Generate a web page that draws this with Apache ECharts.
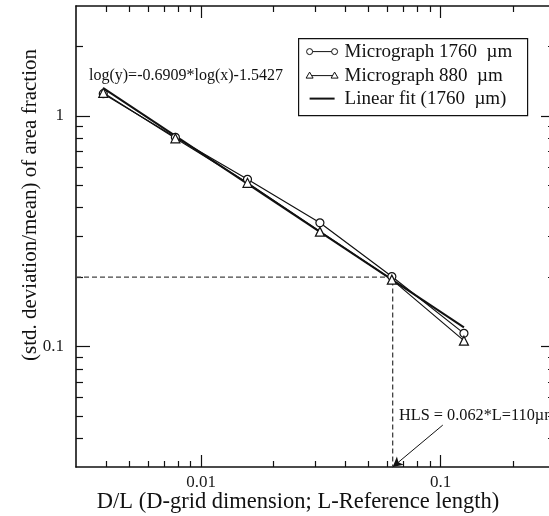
<!DOCTYPE html>
<html><head><meta charset="utf-8">
<script src="https://cdn.jsdelivr.net/npm/echarts@6/dist/echarts.min.js"></script>
<style>html,body{margin:0;padding:0;background:#fff}#c{width:549px;height:516px}</style>
</head><body><div id="c"></div>
<script>
// ---- data ----
const xValues = [0.0039, 0.0078, 0.0156, 0.0313, 0.0625, 0.125];
const y1760 = [1.25, 0.808, 0.531, 0.344, 0.201, 0.114];
const y880 = [1.26, 0.800, 0.513, 0.315, 0.195, 0.106];
const fitX = [0.0039, 0.125];
const fitY = [1.32, 0.121];
const hlsX = 0.063;
const hlsY = 0.2;
const arrowFrom = [0.102, 0.0456];
const xMin = 0.003, xMax = 0.3, yMin = 0.03, yMax = 3;
const xMajorTicks = [0.01, 0.1];
const xTickLabels = ['0.01', '0.1'];
const xMinorTicks = [0.004,0.005,0.006,0.007,0.008,0.009,0.02,0.03,0.04,0.05,0.06,0.07,0.08,0.09,0.2];
const yMajorTicks = [0.1, 1];
const yTickLabels = ['0.1', '1'];
const yMinorTicks = [0.04,0.05,0.06,0.07,0.08,0.09,0.2,0.3,0.4,0.5,0.6,0.7,0.8,0.9,2];
const seriesNames = ['Micrograph 1760  µm', 'Micrograph 880  µm', 'Linear fit (1760  µm)'];
const equationText = 'log(y)=-0.6909*log(x)-1.5427';
const hlsText = 'HLS = 0.062*L=110µm';
const xTitle = 'D/L (D-grid dimension; L-Reference length)';
const yTitle = '(std. deviation/mean) of area fraction';

const FONT = 'Liberation Serif, Times New Roman, serif';
const INK = '#111';

function labelFor(v, ticks, labels) {
  let best = 0;
  for (let i = 0; i < ticks.length; i++) if (Math.abs(Math.log10(ticks[i]) - Math.log10(v)) < Math.abs(Math.log10(ticks[best]) - Math.log10(v))) best = i;
  return labels[best];
}
function makeAxis(dim, pos, ticks, len, showLine, withLabels) {
  const isX = dim === 'x';
  const ax = {
    type: 'log', logBase: 10, gridIndex: 0, position: pos,
    min: isX ? xMin : yMin, max: isX ? xMax : yMax,
    axisLine: { show: showLine, onZero: false, lineStyle: { color: INK, width: 1.6 } },
    axisTick: { show: true, inside: true, length: len, customValues: ticks, lineStyle: { color: INK, width: 1.2 } },
    axisLabel: { show: false },
    splitLine: { show: false }, minorTick: { show: false }, minorSplitLine: { show: false }
  };
  if (withLabels) {
    ax.axisLabel = {
      show: true, customValues: ticks, margin: isX ? 7 : 12,
      fontFamily: FONT, fontSize: 17, color: '#1a1a1a',
      formatter: v => labelFor(v, isX ? xMajorTicks : yMajorTicks, isX ? xTickLabels : yTickLabels)
    };
  }
  return ax;
}

const chart = echarts.init(document.getElementById('c'), null, { renderer: 'canvas' });
const pairs = (xs, ys) => xs.map((x, i) => [x, ys[i]]);

const option = {
  backgroundColor: '#fff',
  animation: false,
  grid: { left: 76, top: 6, width: 479, height: 461, outerBoundsMode: 'none', containLabel: false },
  xAxis: [
    makeAxis('x', 'bottom', xMajorTicks, 12, true, true),
    makeAxis('x', 'bottom', xMinorTicks, 6, false, false),
    makeAxis('x', 'top', xMajorTicks, 12, true, false),
    makeAxis('x', 'top', xMinorTicks, 6, false, false)
  ],
  yAxis: [
    makeAxis('y', 'left', yMajorTicks, 14, true, true),
    makeAxis('y', 'left', yMinorTicks, 7, false, false),
    makeAxis('y', 'right', yMajorTicks, 14, true, false),
    makeAxis('y', 'right', yMinorTicks, 7, false, false)
  ],
  series: [
    {
      name: 'hls', type: 'line', xAxisIndex: 0, yAxisIndex: 0, z: 1,
      data: [[xMin, hlsY], [hlsX, hlsY], [hlsX, yMin]],
      symbol: 'none', silent: true,
      lineStyle: { color: '#444', width: 1.3, type: [5, 3] },
      markLine: {
        silent: true, symbol: ['none', 'arrow'], symbolSize: [8, 10],
        lineStyle: { color: INK, width: 1, type: 'solid' },
        label: { show: false },
        data: [[{ coord: arrowFrom }, { coord: [hlsX, yMin] }]]
      }
    },
    {
      name: seriesNames[0], type: 'line', xAxisIndex: 0, yAxisIndex: 0, z: 3,
      data: pairs(xValues, y1760),
      symbol: 'circle', symbolSize: 8,
      itemStyle: { color: '#fff', borderColor: INK, borderWidth: 1.2 },
      lineStyle: { color: INK, width: 1.2 }
    },
    {
      name: seriesNames[1], type: 'line', xAxisIndex: 0, yAxisIndex: 0, z: 3,
      data: pairs(xValues, y880),
      symbol: 'triangle', symbolSize: 9,
      itemStyle: { color: '#fff', borderColor: INK, borderWidth: 1.2 },
      lineStyle: { color: INK, width: 1.2 }
    },
    {
      name: seriesNames[2], type: 'line', xAxisIndex: 0, yAxisIndex: 0, z: 2,
      data: pairs(fitX, fitY),
      symbol: 'none',
      lineStyle: { color: INK, width: 2 }
    }
  ],
  graphic: [
    { type: 'text', left: 89, top: 68, style: { text: equationText, font: '16px ' + FONT, fill: INK } },
    { type: 'text', left: 399, top: 408, style: { text: hlsText, font: '16.3px ' + FONT, fill: INK } },
    { type: 'text', x: 298, y: 502, style: { text: xTitle, font: '22.5px ' + FONT, fill: INK, align: 'center', verticalAlign: 'middle' } },
    { type: 'text', x: 30, y: 205, rotation: Math.PI / 2, style: { text: yTitle, font: '21px ' + FONT, fill: INK, align: 'center', verticalAlign: 'middle' } },
    {
      type: 'group', left: 298, top: 38,
      children: [
        { type: 'rect', shape: { x: 0, y: 0, width: 229, height: 77 }, style: { fill: '#fff', stroke: INK, lineWidth: 1.2 } },
        { type: 'line', shape: { x1: 11, y1: 13, x2: 36, y2: 13 }, style: { stroke: INK, lineWidth: 1 } },
        { type: 'circle', shape: { cx: 11, cy: 13, r: 3 }, style: { fill: '#fff', stroke: INK, lineWidth: 1 } },
        { type: 'circle', shape: { cx: 36, cy: 13, r: 3 }, style: { fill: '#fff', stroke: INK, lineWidth: 1 } },
        { type: 'text', x: 46, y: 13, style: { text: seriesNames[0], font: '19px ' + FONT, fill: INK, verticalAlign: 'middle' } },
        { type: 'line', shape: { x1: 11, y1: 37, x2: 36, y2: 37 }, style: { stroke: INK, lineWidth: 1 } },
        { type: 'polygon', shape: { points: [[11, 33.5], [14.5, 39.5], [7.5, 39.5]] }, style: { fill: '#fff', stroke: INK, lineWidth: 1 } },
        { type: 'polygon', shape: { points: [[36, 33.5], [39.5, 39.5], [32.5, 39.5]] }, style: { fill: '#fff', stroke: INK, lineWidth: 1 } },
        { type: 'text', x: 46, y: 37, style: { text: seriesNames[1], font: '19px ' + FONT, fill: INK, verticalAlign: 'middle' } },
        { type: 'line', shape: { x1: 11, y1: 60, x2: 36, y2: 60 }, style: { stroke: INK, lineWidth: 2 } },
        { type: 'text', x: 46, y: 60, style: { text: seriesNames[2], font: '19px ' + FONT, fill: INK, verticalAlign: 'middle' } }
      ]
    }
  ]
};
chart.setOption(option);
</script>
</body></html>
